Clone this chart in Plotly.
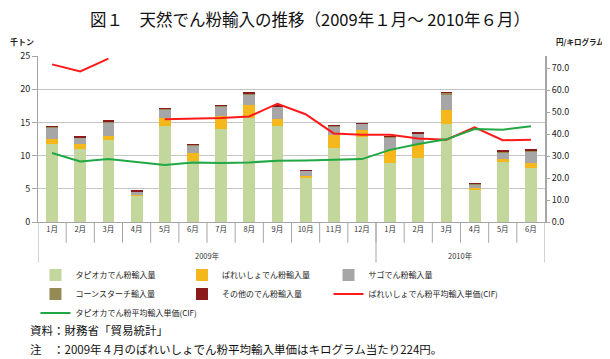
import plotly.graph_objects as go

months = ["1月", "2月", "3月", "4月", "5月", "6月", "7月", "8月", "9月", "10月", "11月", "12月",
          "1月", "2月", "3月", "4月", "5月", "6月"]
years = ["2009年", "2010年"]
year_spans = [(0, 11), (12, 17)]

tapioca = [11.8, 11.05, 12.3, 4.0, 14.4, 9.2, 14.0, 15.7, 14.45, 6.7, 11.2, 12.8, 8.94, 9.65, 14.8, 4.88, 9.04, 8.17]
potato = [0.76, 0.65, 0.6, 0.05, 1.3, 1.2, 1.95, 1.85, 1.02, 0.23, 1.86, 1.1, 1.96, 2.1, 2.1, 0.24, 0.5, 0.66]
sago = [1.64, 0.95, 2.1, 0.55, 1.22, 1.05, 1.4, 1.66, 1.85, 0.75, 1.35, 0.9, 1.8, 1.55, 2.3, 0.5, 1.0, 1.77]
cornstarch = [0.15, 0.15, 0.17, 0.05, 0.12, 0.15, 0.15, 0.2, 0.12, 0.06, 0.12, 0.08, 0.18, 0.1, 0.25, 0.15, 0.15, 0.05]
other = [0.08, 0.07, 0.08, 0.2, 0.03, 0.08, 0.07, 0.07, 0.05, 0.05, 0.06, 0.02, 0.07, 0.15, 0.02, 0.05, 0.05, 0.35]

potato_price = [71.7, 68.5, 74.3, None, 46.7, 46.9, 47.3, 48.0, 53.8, 49.0, 40.3, 39.7, 39.7, 38.0, 37.4, 43.1, 37.2, 37.4]
tapioca_price = [31.4, 27.5, 28.6, 27.2, 25.9, 27.1, 26.8, 27.1, 27.9, 28.0, 28.3, 28.6, 32.8, 35.5, 37.6, 42.3, 42.0, 43.5]

names = ["タピオカでん粉輸入量", "ばれいしょでん粉輸入量", "サゴでん粉輸入量",
         "コーンスターチ輸入量", "その他のでん粉輸入量",
         "ばれいしょでん粉平均輸入単価(CIF)", "タピオカでん粉平均輸入単価(CIF)"]

x = list(range(len(months)))
FONT = "Noto Sans CJK JP"
AX = "#A6A6A6"
PH = 166.0  # plot height in px
PW = 507.0

# legend column for each trace (3 columns like the original)
legend_of = ["legend", "legend2", "legend3", "legend", "legend2", "legend3", "legend"]

fig = go.Figure()
bar_series = [tapioca, potato, sago, cornstarch, other]
bar_colors = ["#C3D69B", "#F5B81C", "#A6A6A6", "#948A54", "#8B1A1A"]
for i, (vals, col, nm) in enumerate(zip(bar_series, bar_colors, names[:5])):
    fig.add_trace(go.Bar(x=x, y=vals, name=nm, marker=dict(color=col, line=dict(width=0)),
                         width=0.42, legend=legend_of[i]))
fig.add_trace(go.Scatter(x=x, y=potato_price, name=names[5], yaxis="y2", mode="lines",
                         line=dict(color="#FF1A1A", width=2), connectgaps=False,
                         legend=legend_of[5]))
fig.add_trace(go.Scatter(x=x, y=tapioca_price, name=names[6], yaxis="y2", mode="lines",
                         line=dict(color="#1FA843", width=2), legend=legend_of[6]))

shapes = []
for i in range(len(months) - 1):
    shapes.append(dict(type="line", xref="x", yref="paper", x0=i + 0.5, x1=i + 0.5,
                       y0=0, y1=-0.125, line=dict(color=AX, width=1)))
for xv in [-0.5, 11.5, 17.5]:
    shapes.append(dict(type="line", xref="x", yref="paper", x0=xv, x1=xv,
                       y0=0, y1=-0.245, line=dict(color=AX, width=1)))

LEG_Y = -0.232
leg_common = dict(orientation="v", xanchor="left", y=LEG_Y, yanchor="top", itemwidth=30,
                  font=dict(size=8, family=FONT, color="#222"), tracegroupgap=0,
                  traceorder="normal", bgcolor="rgba(0,0,0,0)")

# the page body has an 8px margin, so the figure is 8px smaller and content is offset
fig.update_layout(
    width=602, height=351,
    margin=dict(l=30, r=65, t=48, b=137, autoexpand=False),
    paper_bgcolor="white", plot_bgcolor="white",
    font=dict(family=FONT, color="#222222"),
    barmode="stack", bargap=0.58,
    showlegend=True,
    legend=dict(x=-0.005, **leg_common),
    legend2=dict(x=0.284, **leg_common),
    legend3=dict(x=0.573, **leg_common),
    xaxis=dict(range=[-0.5, 17.5], tickmode="array", tickvals=x, ticktext=months,
               showgrid=False, showline=True, linecolor=AX, linewidth=1, ticks="",
               tickfont=dict(size=7.5, color="#333", family=FONT), zeroline=False),
    yaxis=dict(range=[0, 25], dtick=5, showgrid=True, gridcolor="#C4C4C4", gridwidth=1,
               showline=True, linecolor=AX, linewidth=1, ticks="outside", ticklen=5,
               tickcolor=AX, tickfont=dict(size=9, color="#222", family=FONT), zeroline=False),
    yaxis2=dict(range=[0, 75.5], tickvals=[0, 10, 20, 30, 40, 50, 60, 70], tickformat=".1f",
                overlaying="y", side="right", showgrid=False, showline=True, linecolor=AX,
                linewidth=2, ticks="outside", ticklen=3, tickcolor=AX,
                tickfont=dict(size=9, color="#222", family=FONT), zeroline=False),
    shapes=shapes,
)

for yr, (a, b) in zip(years, year_spans):
    fig.add_annotation(x=(a + b) / 2, y=-(255 - 221.7) / PH, xref="x", yref="paper", text=yr,
                       showarrow=False, yanchor="middle",
                       font=dict(size=7.5, color="#333333", family=FONT))
fig.add_annotation(x=-30 / PW, y=1 + (56 - 41) / PH, xref="paper", yref="paper",
                   xanchor="left", yanchor="middle", showarrow=False,
                   text="<b>千トン</b>", font=dict(size=8, color="#222", family=FONT))
fig.add_annotation(x=(606 - 38) / PW, y=1 + (56 - 41) / PH, xref="paper", yref="paper",
                   xanchor="right", yanchor="middle", showarrow=False,
                   text="<b>円/キログラム</b>", font=dict(size=7.5, color="#222", family=FONT))
fig.add_annotation(x=(310 - 38) / PW, y=1 + (56 - 19) / PH, xref="paper", yref="paper",
                   xanchor="center", yanchor="middle", showarrow=False,
                   text="図１　天然でん粉輸入の推移（2009年１月～ 2010年６月）",
                   font=dict(size=16.5, color="#111", family=FONT))
fig.add_annotation(x=(28 - 38) / PW, y=-(330 - 221.7) / PH, xref="paper", yref="paper",
                   xanchor="left", yanchor="middle", showarrow=False,
                   text="資料：財務省「貿易統計」", font=dict(size=11.5, color="#111", family=FONT))
fig.add_annotation(x=(28 - 38) / PW, y=-(349 - 221.7) / PH, xref="paper", yref="paper",
                   xanchor="left", yanchor="middle", showarrow=False,
                   text="注　：2009年４月のばれいしょでん粉平均輸入単価はキログラム当たり224円。",
                   font=dict(size=11.5, color="#111", family=FONT))

fig.write_html("out.html")
